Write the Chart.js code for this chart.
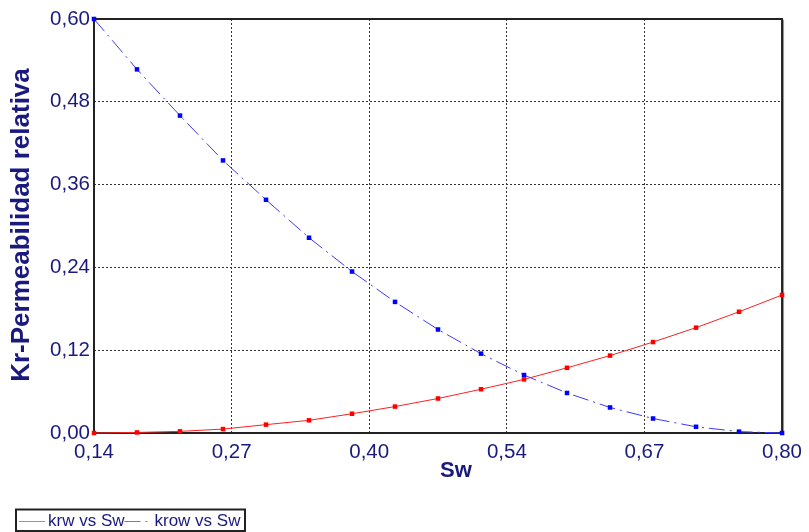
<!DOCTYPE html>
<html>
<head>
<meta charset="utf-8">
<script src="https://cdn.jsdelivr.net/npm/chart.js@4.4.0/dist/chart.umd.min.js"></script>
<style>
  html, body { margin: 0; padding: 0; background: #fff; }
</style>
</head>
<body>
<canvas id="chart" width="809" height="532"></canvas>
<script>
// Saturation points (17 evenly spaced samples)
const SW = [0.14, 0.18125, 0.2225, 0.26375, 0.305, 0.34625, 0.3875, 0.42875, 0.47,
            0.51125, 0.5525, 0.59375, 0.635, 0.67625, 0.7175, 0.75875, 0.80];
const KRW = [0, 0.0008, 0.0024, 0.0057, 0.0121, 0.0184, 0.0279, 0.0383, 0.0500,
             0.0634, 0.0777, 0.0945, 0.1122, 0.1318, 0.1527, 0.1757, 0.2000];
const KROW = [0.600, 0.527, 0.460, 0.395, 0.338, 0.283, 0.234, 0.190, 0.150,
              0.115, 0.084, 0.058, 0.037, 0.021, 0.009, 0.002, 0];

const X_TICKS = [0.14, 0.272, 0.404, 0.536, 0.668, 0.80];
const X_TICK_LABELS = ['0,14', '0,27', '0,40', '0,54', '0,67', '0,80'];
const Y_TICK_LABELS = ['0,00', '0,12', '0,24', '0,36', '0,48', '0,60'];

const SERIES_NAMES = ['krw vs Sw', 'krow vs Sw'];
const X_TITLE = 'Sw';
const Y_TITLE = 'Kr-Permeabilidad relativa';

const NAVY = '#1a1a7e';
const FONT = "'Liberation Sans', Arial, sans-serif";
const BLUE_DASH = [16, 5, 2, 5];

const toXY = ys => SW.map((x, i) => ({ x, y: ys[i] }));

// frame around the plot, drawn before the data so the edge markers stay on top
const framePlugin = {
  id: 'frame',
  beforeDatasetsDraw(chart) {
    const { ctx, chartArea: a } = chart;
    ctx.save();
    ctx.strokeStyle = '#999';
    ctx.lineWidth = 1;
    ctx.beginPath();
    ctx.moveTo(a.right + 1.5, a.top + 1);
    ctx.lineTo(a.right + 1.5, a.bottom + 1.5);
    ctx.stroke();
    ctx.strokeStyle = '#222';
    ctx.lineWidth = 2;
    ctx.strokeRect(a.left, a.top, a.right - a.left, a.bottom - a.top);
    ctx.restore();
  },
};

// axis titles and the boxed legend at the bottom left
const textPlugin = {
  id: 'texts',
  afterDraw(chart) {
    const { ctx } = chart;
    ctx.save();
    ctx.fillStyle = NAVY;
    ctx.textAlign = 'center';
    ctx.textBaseline = 'middle';

    ctx.font = `bold 22px ${FONT}`;
    ctx.fillText(X_TITLE, 456, 471);

    ctx.translate(22, 225);
    ctx.rotate(-Math.PI / 2);
    ctx.font = `bold 26px ${FONT}`;
    ctx.fillText(Y_TITLE, 0, 0);
    ctx.setTransform(1, 0, 0, 1, 0, 0);

    // legend
    ctx.strokeStyle = '#222';
    ctx.lineWidth = 2;
    ctx.strokeRect(16, 509.5, 229, 21.5);
    ctx.font = `17px ${FONT}`;
    ctx.textAlign = 'left';
    const ly = 521;
    let x = 19;
    ctx.lineWidth = 1;
    ctx.strokeStyle = '#ff6a6a';
    ctx.beginPath(); ctx.moveTo(x, ly + 0.5); ctx.lineTo(x + 26, ly + 0.5); ctx.stroke();
    x += 29;
    ctx.fillText(SERIES_NAMES[0], x, ly);
    x += ctx.measureText(SERIES_NAMES[0]).width;
    ctx.strokeStyle = '#7070ff';
    ctx.setLineDash(BLUE_DASH);
    ctx.beginPath(); ctx.moveTo(x, ly + 0.5); ctx.lineTo(x + 27, ly + 0.5); ctx.stroke();
    ctx.setLineDash([]);
    x += 30;
    ctx.fillText(SERIES_NAMES[1], x, ly);
    ctx.restore();
  },
};

const ctx = document.getElementById('chart').getContext('2d');
new Chart(ctx, {
  type: 'line',
  data: {
    datasets: [
      {
        label: SERIES_NAMES[0],
        data: toXY(KRW),
        borderColor: '#ff2020',
        backgroundColor: '#ff0000',
        borderWidth: 1,
        pointStyle: 'rect',
        pointRadius: 3.2,
        pointBorderWidth: 0,
        tension: 0,
        clip: false,
      },
      {
        label: SERIES_NAMES[1],
        data: toXY(KROW),
        borderColor: '#3a3aff',
        backgroundColor: '#0000ff',
        borderWidth: 1,
        borderDash: BLUE_DASH,
        pointStyle: 'rect',
        pointRadius: 3.2,
        pointBorderWidth: 0,
        tension: 0,
        clip: false,
      },
    ],
  },
  plugins: [framePlugin, textPlugin],
  options: {
    responsive: false,
    animation: false,
    layout: { padding: { top: 19, right: 22, left: 0, bottom: 0 } },
    plugins: {
      legend: { display: false },
      tooltip: { enabled: false },
    },
    scales: {
      x: {
        type: 'linear',
        min: 0.14,
        max: 0.80,
        afterBuildTicks: s => { s.ticks = X_TICKS.map(value => ({ value })); },
        afterFit: s => { s.height = 99; },
        grid: { color: '#333', lineWidth: 1, drawTicks: false },
        border: { display: false, dash: [2, 2] },
        ticks: {
          padding: 7,
          color: NAVY,
          font: { family: FONT, size: 20.5 },
          maxRotation: 0,
          callback: (v, i) => X_TICK_LABELS[i],
        },
      },
      y: {
        min: 0,
        max: 0.6,
        afterFit: s => { s.width = 94; },
        grid: { color: '#333', lineWidth: 1, drawTicks: false },
        border: { display: false, dash: [2, 2] },
        ticks: {
          stepSize: 0.12,
          padding: 4,
          color: NAVY,
          font: { family: FONT, size: 20.5 },
          callback: (v, i) => Y_TICK_LABELS[i],
        },
      },
    },
  },
});
</script>
</body>
</html>
